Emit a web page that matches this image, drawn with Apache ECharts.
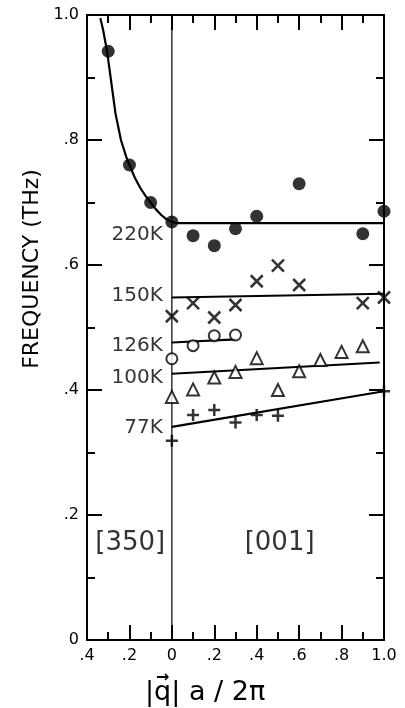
<!DOCTYPE html>
<html>
<head>
<meta charset="utf-8">
<script src="https://cdn.jsdelivr.net/npm/echarts@6/dist/echarts.min.js"></script>
<style>
html,body{margin:0;padding:0;background:#fff;}
#chart{width:405px;height:708px;}
</style>
</head>
<body>
<div id="chart"></div>
<script>
// ---- data ----
const xTickLabels = ['.4', '.2', '0', '.2', '.4', '.6', '.8', '1.0'];
const yTickLabels = ['0', '.2', '.4', '.6', '.8', '1.0'];

const pts220K = [[-0.3, 0.942], [-0.2, 0.76], [-0.1, 0.70], [0, 0.669], [0.1, 0.647], [0.2, 0.631], [0.3, 0.658], [0.4, 0.678], [0.6, 0.73], [0.9, 0.65], [1.0, 0.686]];
const curve220K = [[-0.337, 0.995], [-0.324, 0.976], [-0.305, 0.941], [-0.287, 0.896], [-0.266, 0.843], [-0.24, 0.80], [-0.215, 0.773], [-0.2, 0.76], [-0.175, 0.74], [-0.15, 0.724], [-0.125, 0.711], [-0.1, 0.70], [-0.075, 0.689], [-0.05, 0.680], [-0.025, 0.673], [0, 0.669], [0.025, 0.667], [1.0, 0.667]];

const pts150K = [[0, 0.518], [0.1, 0.539], [0.2, 0.516], [0.3, 0.536], [0.4, 0.574], [0.5, 0.599], [0.6, 0.568], [0.9, 0.539], [1.0, 0.548]];
const line150K = [[0, 0.548], [1.0, 0.554]];

const pts126K = [[0, 0.45], [0.1, 0.471], [0.2, 0.487], [0.3, 0.488]];
const line126K = [[0, 0.476], [0.3, 0.481]];

const pts100K = [[0, 0.389], [0.1, 0.401], [0.2, 0.42], [0.3, 0.429], [0.4, 0.451], [0.5, 0.40], [0.6, 0.43], [0.7, 0.448], [0.8, 0.461], [0.9, 0.47]];
const line100K = [[0, 0.426], [0.98, 0.444]];

const pts77K = [[0, 0.319], [0.1, 0.36], [0.2, 0.368], [0.3, 0.348], [0.4, 0.36], [0.5, 0.359], [1.0, 0.398]];
const line77K = [[0, 0.341], [1.0, 0.398]];

const zeroLine = [[0, 0], [0, 1.0]];

const tempLabels = [['220K', 0.648], ['150K', 0.55], ['126K', 0.47], ['100K', 0.419], ['77K', 0.339]];
const dirLabels = [['[350]', -0.196, 0.155], ['[001]', 0.508, 0.155]];

const yTitle = 'FREQUENCY (THz)';
const xTitleMain = '|q| a / 2\u03C0';
const xTitleArrow = '\u2192';

// ---- chart ----
const FONT = 'DejaVu Sans';
const chart = echarts.init(document.getElementById('chart'), null, {renderer: 'canvas'});

function axisCommon(showLabel, labels) {
  return {
    axisLine: {show: true, onZero: false, lineStyle: {color: '#000', width: 2}},
    axisTick: {show: true, inside: true, length: 15, lineStyle: {color: '#000', width: 2}},
    minorTick: {show: true, splitNumber: 2, length: 8, lineStyle: {color: '#000', width: 2}},
    splitLine: {show: false},
    axisLabel: showLabel ? {
      show: true, color: '#000', fontFamily: FONT, fontSize: 16, margin: 8,
      formatter: function (v, i) { return labels[i]; }
    } : {show: false}
  };
}

function lineSeries(data, width) {
  return {type: 'line', data: data, symbol: 'none', lineStyle: {color: '#000', width: width || 2.2},
    silent: true, z: 3, emphasis: {disabled: true}};
}
function scatterSeries(data, symbol, size, itemStyle) {
  return {type: 'scatter', data: data, symbol: symbol, symbolSize: size, itemStyle: itemStyle, silent: true, z: 4,
    emphasis: {disabled: true}};
}
const strokeOnly = {color: 'rgba(0,0,0,0)', borderColor: '#000', borderWidth: 2.5};
const openStyle = {color: '#fff', borderColor: '#000', borderWidth: 2};

// position of the arrow over the q in the x title
const ctx = document.createElement('canvas').getContext('2d');
const xTitleFont = '27px "DejaVu Sans"';
ctx.font = xTitleFont;
const xTitleLeft = 145;
const barW = ctx.measureText('|').width;
const qW = ctx.measureText('q').width;
const arrowX = xTitleLeft + barW + qW / 2;

const option = {
  animation: false,
  backgroundColor: '#fff',
  grid: {left: 87, right: 21, top: 15, bottom: 68, containLabel: false},
  xAxis: [
    Object.assign({type: 'value', position: 'bottom', min: -0.4, max: 1.0, interval: 0.2}, axisCommon(true, xTickLabels)),
    Object.assign({type: 'value', position: 'top', min: -0.4, max: 1.0, interval: 0.2}, axisCommon(false))
  ],
  yAxis: [
    Object.assign({type: 'value', position: 'left', min: 0, max: 1.0, interval: 0.2}, axisCommon(true, yTickLabels)),
    Object.assign({type: 'value', position: 'right', min: 0, max: 1.0, interval: 0.2}, axisCommon(false))
  ],
  series: [
    lineSeries(zeroLine, 1.2),
    lineSeries(curve220K),
    lineSeries(line150K),
    lineSeries(line126K),
    lineSeries(line100K),
    lineSeries(line77K),
    scatterSeries(pts220K, 'circle', 13, {color: '#000'}),
    scatterSeries(pts150K, 'path://M0,0L10,10M10,0L0,10', 12, strokeOnly),
    scatterSeries(pts126K, 'circle', 11, openStyle),
    scatterSeries(pts100K, 'triangle', 12, openStyle),
    scatterSeries(pts77K, 'path://M5,0L5,10M0,5L10,5', 12, strokeOnly),
    {
      type: 'scatter', symbolSize: 0, silent: true, z: 5,
      data: tempLabels.map(d => ({value: [0, d[1]], name: d[0]})),
      label: {show: true, position: 'left', distance: 9, formatter: '{b}', color: '#000', fontFamily: FONT, fontSize: 20}
    },
    {
      type: 'scatter', symbolSize: 0, silent: true, z: 5,
      data: dirLabels.map(d => ({value: [d[1], d[2]], name: d[0]})),
      label: {show: true, position: 'inside', formatter: '{b}', color: '#000', fontFamily: FONT, fontSize: 26}
    }
  ],
  graphic: [
    {type: 'text', x: 32, y: 269, rotation: Math.PI / 2,
      style: {text: yTitle, fill: '#000', font: '22px "DejaVu Sans"', textAlign: 'center', textVerticalAlign: 'middle'}},
    {type: 'text', x: xTitleLeft, y: 693,
      style: {text: xTitleMain, fill: '#000', font: xTitleFont, textAlign: 'left', textVerticalAlign: 'middle'}},
    {type: 'text', x: arrowX, y: 678,
      style: {text: xTitleArrow, fill: '#000', font: 'bold 16px "DejaVu Sans"', textAlign: 'center', textVerticalAlign: 'middle'}}
  ]
};
chart.setOption(option);
</script>
</body>
</html>
